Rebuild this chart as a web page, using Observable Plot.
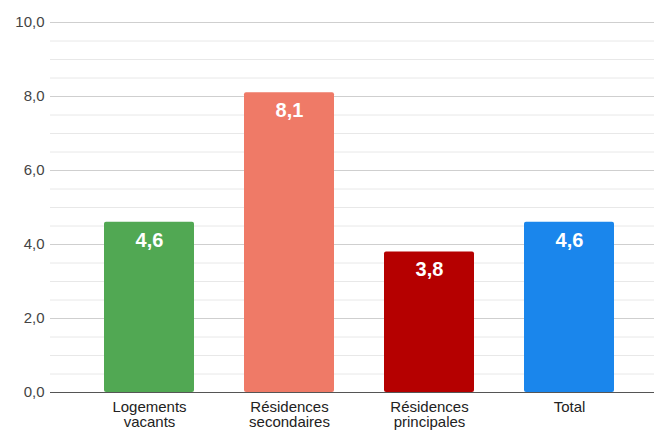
<!DOCTYPE html>
<html><head><meta charset="utf-8">
<script src="https://cdn.jsdelivr.net/npm/d3@7"></script>
<script src="https://cdn.jsdelivr.net/npm/@observablehq/plot@0.6"></script>
<style>
body{margin:0;background:#fff;}
svg{font-family:"Liberation Sans",Arial,sans-serif;}
</style></head>
<body><div id="chart"></div>
<script>
const categories = ["Logements\nvacants", "Résidences\nsecondaires", "Résidences\nprincipales", "Total"];
const values = [4.6, 8.1, 3.8, 4.6];
const colors = ["#51a853", "#ef7a67", "#b50000", "#1a86ec"];
const yTicks = [0, 2, 4, 6, 8, 10];
const minorTicks = [0.5,1,1.5,2.5,3,3.5,4.5,5,5.5,6.5,7,7.5,8.5,9,9.5];

const data = categories.map((c, i) => ({cat: c, value: values[i], color: colors[i]}));
const fmt = v => d3.format(".1f")(v).replace(".", ",");

const chart = Plot.plot({
  width: 654, height: 430,
  marginLeft: 50, marginRight: 0, marginTop: 22, marginBottom: 38,
  style: {fontFamily: "'Liberation Sans', Arial, sans-serif", background: "#fff"},
  x: {domain: categories, paddingInner: 0.359, paddingOuter: 0.332, align: 0.57, label: null},
  y: {domain: [0, 10], label: null},
  marks: [
    Plot.ruleY(minorTicks, {stroke: "#e8e8e8", strokeWidth: 1}),
    Plot.ruleY(yTicks, {stroke: "#cfcfcf", strokeWidth: 1}),
    Plot.barY(data, {x: "cat", y: "value", fill: "color", rx: 2}),
    Plot.ruleY([0], {stroke: "#555", strokeWidth: 1}),
    Plot.text(data, {x: "cat", y: "value", text: d => fmt(d.value), dy: 18, fill: "#fff", fontSize: 20, fontWeight: "bold"}),
    Plot.axisY({ticks: yTicks, tickFormat: fmt, tickSize: 0, tickPadding: 6, fontSize: 15, fill: "#444", label: null}),
    Plot.axisX({tickSize: 0, tickPadding: 8, fontSize: 15, fill: "#222", label: null, lineHeight: 1.05})
  ]
});
document.getElementById("chart").appendChild(chart);
</script></body></html>
